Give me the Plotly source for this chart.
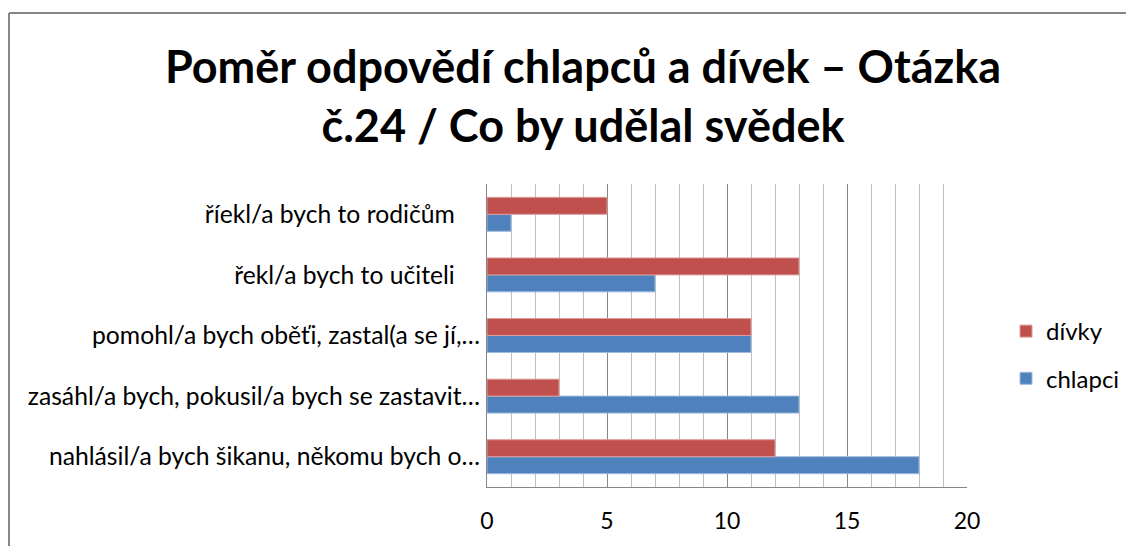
import plotly.graph_objects as go

categories = [
    "nahlásil/a bych šikanu, někomu bych o…",
    "zasáhl/a bych, pokusil/a bych se zastavit…",
    "pomohl/a bych oběťi, zastal(a se jí,…",
    "řekl/a bych to učiteli ",
    "říekl/a bych to rodičům ",
]
chlapci = [18, 13, 11, 7, 1]
divky = [12, 3, 11, 13, 5]
x_ticks = [0, 5, 10, 15, 20]

title = "Poměr odpovědí chlapců a dívek – Otázka<br>č.24 / Co by udělal svědek"

FONT = "Lato"

ticktext = [c.rstrip() + ("\u00a0\u00a0\u00a0\u00a0" if c.endswith(" ") else "") for c in categories]

fig = go.Figure()
fig.add_trace(go.Bar(
    y=categories, x=chlapci, name="chlapci", orientation="h",
    legendgroup="c", legendrank=2,
    marker=dict(color="#4F81BD", line=dict(color="#9DB9DD", width=1)),
))
fig.add_trace(go.Bar(
    y=categories, x=divky, name="dívky", orientation="h",
    legendgroup="d", legendrank=1,
    marker=dict(color="#C0504D", line=dict(color="#DD9D9B", width=1)),
))

# page has an 8px body margin; figure is sized to the visible area
W, H = 1126, 538
L, R, T, B = 479, 167, 176, 59
pw, ph = W - L - R, H - T - B

def px(x):
    return (x - L) / pw

def py(y):
    return (H - B - y) / ph

fig.update_layout(
    width=W, height=H,
    margin=dict(l=L, r=R, t=T, b=B, autoexpand=False),
    paper_bgcolor="white", plot_bgcolor="white",
    barmode="group", bargap=0.44, bargroupgap=0,
    title=dict(text=title, x=575 / W, xanchor="center", y=1 - 75 / H, yanchor="top",
               font=dict(family=FONT, size=45, color="black", weight="bold")),
    font=dict(family=FONT, size=24, color="black"),
    showlegend=True,
    legend=dict(x=px(998), xanchor="left", y=py(347), yanchor="middle",
                traceorder="grouped", font=dict(size=24),
                itemwidth=30, tracegroupgap=13),
    xaxis=dict(range=[0, 20], tickvals=x_ticks, showgrid=True, automargin=False,
               gridcolor="#868686", gridwidth=1,
               minor=dict(dtick=1, showgrid=True, gridcolor="#BFBFBF", gridwidth=1),
               showline=True, linecolor="#868686", linewidth=1,
               ticks="", ticklabelstandoff=13, zeroline=False,
               tickfont=dict(size=23)),
    yaxis=dict(categoryorder="array", categoryarray=categories, automargin=False,
               tickvals=categories, ticktext=ticktext,
               showline=True, linecolor="#868686", linewidth=1,
               ticks="", ticklabelstandoff=1, showgrid=False,
               tickfont=dict(size=24.7)),
    shapes=[
        dict(type="line", xref="paper", yref="paper",
             x0=px(1), x1=px(W + 10), y0=py(5), y1=py(5),
             line=dict(color="#868686", width=2)),
        dict(type="line", xref="paper", yref="paper",
             x0=px(1), x1=px(1), y0=py(5), y1=py(H + 10),
             line=dict(color="#868686", width=2)),
    ],
)

fig.write_html("out.html")
